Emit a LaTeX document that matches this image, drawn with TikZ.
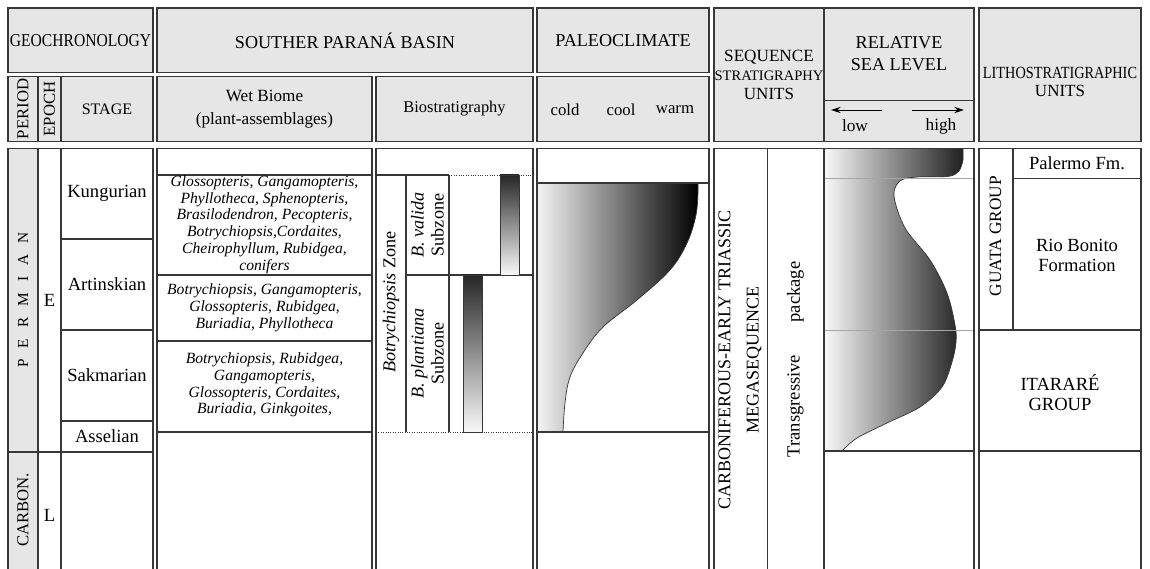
\documentclass[tikz,border=0pt]{standalone}
\usepackage{fontspec}
\setmainfont{Liberation Serif}
\usepackage{graphicx}
\usetikzlibrary{arrows.meta}

\begin{document}
\begin{tikzpicture}[x=0.025cm, y=-0.025cm,
  cadre/.style={draw=trait, line width=0.8pt},
  entete/.style={cadre, fill=gris},
  fin/.style={draw=gray!70, line width=0.6pt},
  pointille/.style={draw=trait, line width=0.7pt, densely dotted},
  fleche/.style={-{Stealth[length=7pt, width=4.5pt]}, line width=0.7pt},
  titre/.style={font=\fontsize{12.9}{15}\selectfont, inner sep=0pt, align=center},
  sous/.style={font=\fontsize{11.9}{14}\selectfont, inner sep=0pt, align=center},
  etiq/.style={font=\fontsize{13.2}{14.2}\selectfont, inner sep=0pt, align=center},
  flore/.style={font=\fontsize{11.1}{11.9}\selectfont\itshape, inner sep=0pt, align=center}]
  % Couleurs
  \definecolor{gris}{RGB}{230,230,230}
  \definecolor{trait}{RGB}{55,55,55}

  % Cadre de la figure
  \useasboundingbox (0,0) rectangle (1150,569);
  \clip (0,0) rectangle (1150,569);

  % En-tetes, premiere ligne
  \filldraw[entete] (8,8) rectangle (153,72.5);
  \filldraw[entete] (157,8) rectangle (533,72.5);
  \filldraw[entete] (537,8) rectangle (709,72.5);
  \filldraw[entete] (714,8) rectangle (824,141.5);
  \filldraw[entete] (824,8) rectangle (974,141.5);
  \draw[cadre] (824,100.5) -- (974,100.5);
  \filldraw[entete] (979,8) rectangle (1141,141.5);

  % En-tetes, deuxieme ligne
  \filldraw[entete] (8,76.5) rectangle (153,141.5);
  \draw[cadre] (38,76.5) -- (38,141.5) (61,76.5) -- (61,141.5);
  \filldraw[entete] (157,76.5) rectangle (372,141.5);
  \filldraw[entete] (376,76.5) rectangle (533,141.5);
  \filldraw[entete] (537,76.5) rectangle (709,141.5);

  % Textes des en-tetes
  \node[titre] (geo) at (80.5,41) {\scalebox{0.86}[1]{GEOCHRONOLOGY}};
  \node[titre] (parana) at (345,41) {SOUTHER PARANÁ BASIN};
  \node[titre] (paleo) at (623,41) {PALEOCLIMATE};
  \node[titre, font=\fontsize{12.2}{14}\selectfont] (seqA) at (769,57) {SEQUENCE};
  \node[titre, font=\fontsize{10.3}{12}\selectfont] (seqB) at (769,75.5) {STRATIGRAPHY};
  \node[titre, font=\fontsize{12.1}{14}\selectfont] (seqC) at (769,94) {UNITS};
  \node[titre] (merA) at (899,43) {RELATIVE};
  \node[titre] (merB) at (899,65) {SEA LEVEL};
  \node[titre, font=\fontsize{12.1}{14}\selectfont] (lithoA) at (1060,72.5) {\scalebox{0.84}[1]{LITHOSTRATIGRAPHIC}};
  \node[titre, font=\fontsize{12.1}{14}\selectfont] (lithoB) at (1060,90.5) {UNITS};
  \node[sous, rotate=90] (periode) at (23,109) {PERIOD};
  \node[sous, rotate=90] (epoque) at (49.5,109) {EPOCH};
  \node[sous, font=\fontsize{11.4}{13}\selectfont] (etage) at (107,109) {STAGE};
  \node[sous, font=\fontsize{12.2}{16.4}\selectfont] (biome) at (264.5,109.5) {Wet Biome\\(plant-assemblages)};
  \node[sous, font=\fontsize{11.7}{14}\selectfont] (biostrat) at (454.5,109) {Biostratigraphy};
  \node[sous] (froid) at (565,110) {cold};
  \node[sous] (frais) at (621,110) {cool};
  \node[sous] (chaud) at (675,110) {warm};
  \node[sous, font=\fontsize{12.3}{13}\selectfont] (bas) at (855,126) {low};
  \node[sous, font=\fontsize{12.3}{13}\selectfont] (haut) at (941,126) {high};

  % Fleches low / high
  \coordinate (basA) at (882,110);
  \coordinate (basB) at (831,110);
  \coordinate (hautA) at (912,110);
  \coordinate (hautB) at (964,110);
  \draw[fleche] (basA) -- (basB);
  \draw[fleche] (hautA) -- (hautB);

  % Geochronologie
  \draw[cadre] (8,148.5) rectangle (153,590);
  \filldraw[cadre, fill=gris] (8,148.5) rectangle (38,590);
  \draw[cadre] (61,148.5) -- (61,590);
  \draw[cadre] (61,239) -- (153,239) (61,330) -- (153,330) (61,421) -- (153,421);
  \draw[cadre] (8,452) -- (153,452);
  \node[sous, font=\fontsize{10.9}{12}\selectfont, rotate=90] (permien) at (23,300)
    {P\hspace{.72em}E\hspace{.72em}R\hspace{.72em}M\hspace{.72em}I\hspace{.72em}A\hspace{.72em}N};
  \node[sous, rotate=90] (carbon) at (23,510) {CARBON.};
  \node[etiq] (epE) at (49.5,300) {E};
  \node[etiq] (epL) at (49.5,515) {L};
  \node[etiq] (kung) at (107,193) {Kungurian};
  \node[etiq] (artin) at (107,284.5) {Artinskian};
  \node[etiq] (sakm) at (107,375.5) {Sakmarian};
  \node[etiq] (assel) at (107,436.5) {Asselian};

  % Biome humide
  \draw[cadre] (157,148.5) rectangle (372,590);
  \draw[cadre] (157,175) -- (372,175) (157,275) -- (372,275) (157,341) -- (372,341);
  \draw[cadre, line width=1.1pt] (157,432) -- (372,432);
  \node[flore] (floreA) at (264.5,224.5) {Glossopteris, Gangamopteris,\\Phyllotheca, Sphenopteris,\\Brasilodendron, Pecopteris,\\Botrychiopsis,Cordaites,\\Cheirophyllum, Rubidgea,\\conifers};
  \node[flore] (floreB) at (264.5,308) {Botrychiopsis, Gangamopteris,\\Glossopteris, Rubidgea,\\Buriadia, Phyllotheca};
  \node[flore] (floreC) at (264.5,385) {Botrychiopsis, Rubidgea,\\Gangamopteris,\\Glossopteris, Cordaites,\\Buriadia, Ginkgoites,};

  % Biostratigraphie
  \draw[cadre] (376,148.5) rectangle (533,590);
  \draw[cadre] (376,175) -- (449,175) (406,175) -- (406,432) (449,175) -- (449,432);
  \draw[cadre] (406,275) -- (533,275);
  \draw[pointille] (449,175) -- (533,175) (376,432) -- (533,432);
  \shadedraw[top color=black!85, bottom color=gray!5, draw=trait, line width=0.5pt] (500,175) rectangle (519,275);
  \shadedraw[top color=black!85, bottom color=gray!5, draw=trait, line width=0.5pt] (463,275) rectangle (482,432);
  \node[etiq, font=\fontsize{12.9}{14}\selectfont, rotate=90] (zone) at (391,302) {\textit{Botrychiopsis} Zone};
  \node[etiq, font=\fontsize{12.9}{14.2}\selectfont, rotate=90] (valida) at (427.5,225) {\textit{B. valida}\\Subzone};
  \node[etiq, font=\fontsize{12.9}{14.2}\selectfont, rotate=90] (plantiana) at (427.5,353.5) {\textit{B. plantiana}\\Subzone};

  % Paleoclimat
  \shadedraw[left color=gray!8, right color=black, draw=trait, line width=0.5pt]
    (537,183) -- (698,183) -- plot[smooth, tension=0.6] coordinates {(698,190) (696,215) (687,243) (670,270) (637,300) (603,327) (583,353) (570,377) (565,403) (563,432)} -- (537,432) -- cycle;
  \draw[cadre] (537,148.5) rectangle (709,590);
  \draw[cadre] (537,183) -- (709,183) (537,432) -- (709,432);

  % Stratigraphie sequentielle
  \draw[cadre] (714,148.5) rectangle (824,590);
  \draw[cadre] (767.5,148.5) -- (767.5,590);
  \node[etiq, font=\fontsize{12.8}{20}\selectfont, rotate=90] (mega) at (740,360) {CARBONIFEROUS-EARLY TRIASSIC\\MEGASEQUENCE};
  \node[etiq, rotate=90] (paquet) at (795.5,292) {package};
  \node[etiq, rotate=90] (transg) at (795.5,406) {Transgressive};

  % Niveau marin relatif
  \shadedraw[left color=gray!5, right color=gray!25!black, draw=trait, line width=0.5pt]
    (824,148.5) -- (963,148.5) -- plot[smooth, tension=0.55] coordinates {(963,160) (959,171) (948,176.5) (917,177) (900,181) (894,196) (905,228) (930,260) (947,293) (955,325) (956,342) (952,362) (942,387) (920,407) (887,423) (857,438) (842,451)} -- (824,451) -- cycle;
  \draw[fin] (824,178.5) -- (974,178.5) (824,330) -- (974,330);
  \draw[cadre] (824,148.5) rectangle (974,590);
  \draw[cadre] (824,451) -- (974,451);

  % Unites lithostratigraphiques
  \draw[cadre] (979,148.5) rectangle (1141,590);
  \draw[cadre] (1013,148.5) -- (1013,330) (1013,178.5) -- (1141,178.5);
  \draw[cadre] (979,330) -- (1141,330) (979,451) -- (1141,451);
  \node[etiq] (palermo) at (1077,163.5) {Palermo Fm.};
  \node[etiq, font=\fontsize{13.2}{14.2}\selectfont] (bonito) at (1077,255) {Rio Bonito\\Formation};
  \node[etiq, font=\fontsize{12.3}{14}\selectfont, rotate=90] (guata) at (995.5,236) {GUATA GROUP};
  \node[etiq] (itarare) at (1060,393) {ITARARÉ\\GROUP};
\end{tikzpicture}
\end{document}
